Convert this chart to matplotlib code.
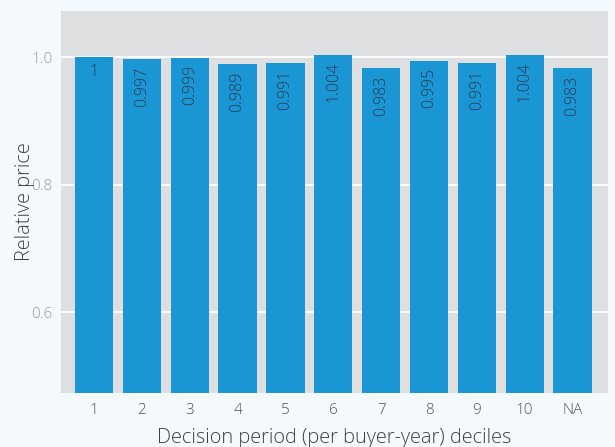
import matplotlib.pyplot as plt
import numpy as np

deciles = ["1", "2", "3", "4", "5", "6", "7", "8", "9", "10", "NA"]
rel_price = [1.0, 0.997, 0.999, 0.989, 0.991, 1.004, 0.983, 0.995, 0.991, 1.004, 0.983]
labels = ["1", "0.997", "0.999", "0.989", "0.991", "1.004", "0.983", "0.995", "0.991", "1.004", "0.983"]

plt.rcParams['font.family'] = ['Open Sans', 'DejaVu Sans']
plt.rcParams['font.weight'] = 'light'

fig = plt.figure(figsize=(6.15, 4.47), dpi=100, facecolor='#f3f9fd')
ax = fig.add_axes([0.0992, 0.1208, 0.8894, 0.8546])
ax.set_facecolor('#dedfe0')

x = np.arange(len(deciles))
ax.bar(x, rel_price, width=0.8, color='#1a96d5', zorder=2)

for xi, v, lab in zip(x, rel_price, labels):
    # single-character labels stay upright
    rot = 0 if len(lab) == 1 else 90
    ax.annotate(lab, (xi, v), xytext=(0, -5), textcoords='offset points',
                rotation=rot, ha='center', va='top', fontsize=11.5,
                fontweight='light', color='#2a3c4c', zorder=3)

ax.set_xlim(-0.69, 10.74)
ax.set_ylim(0.473, 1.073)
ax.set_yticks([0.6, 0.8, 1.0])
ax.set_yticklabels(["0.6", "0.8", "1.0"])
ax.set_xticks(x)
ax.set_xticklabels(deciles)
ax.grid(axis='y', color='white', linewidth=1.3, zorder=1)
ax.set_axisbelow(True)
for s in ax.spines.values():
    s.set_visible(False)
ax.tick_params(axis='both', length=0, labelsize=11)
ax.tick_params(axis='y', colors='#9a9a9a', pad=6)
ax.tick_params(axis='x', colors='#555555', pad=7)

ax.set_xlabel("Decision period (per buyer-year) deciles", fontsize=14.4,
              fontweight='light', color='#404040')
ax.set_ylabel("Relative price", fontsize=14.4, fontweight='light', color='#404040')
ax.xaxis.set_label_coords(0.5, -0.092)
ax.yaxis.set_label_coords(-0.047, 0.5)

fig.savefig("out.png", dpi=100, facecolor=fig.get_facecolor())
